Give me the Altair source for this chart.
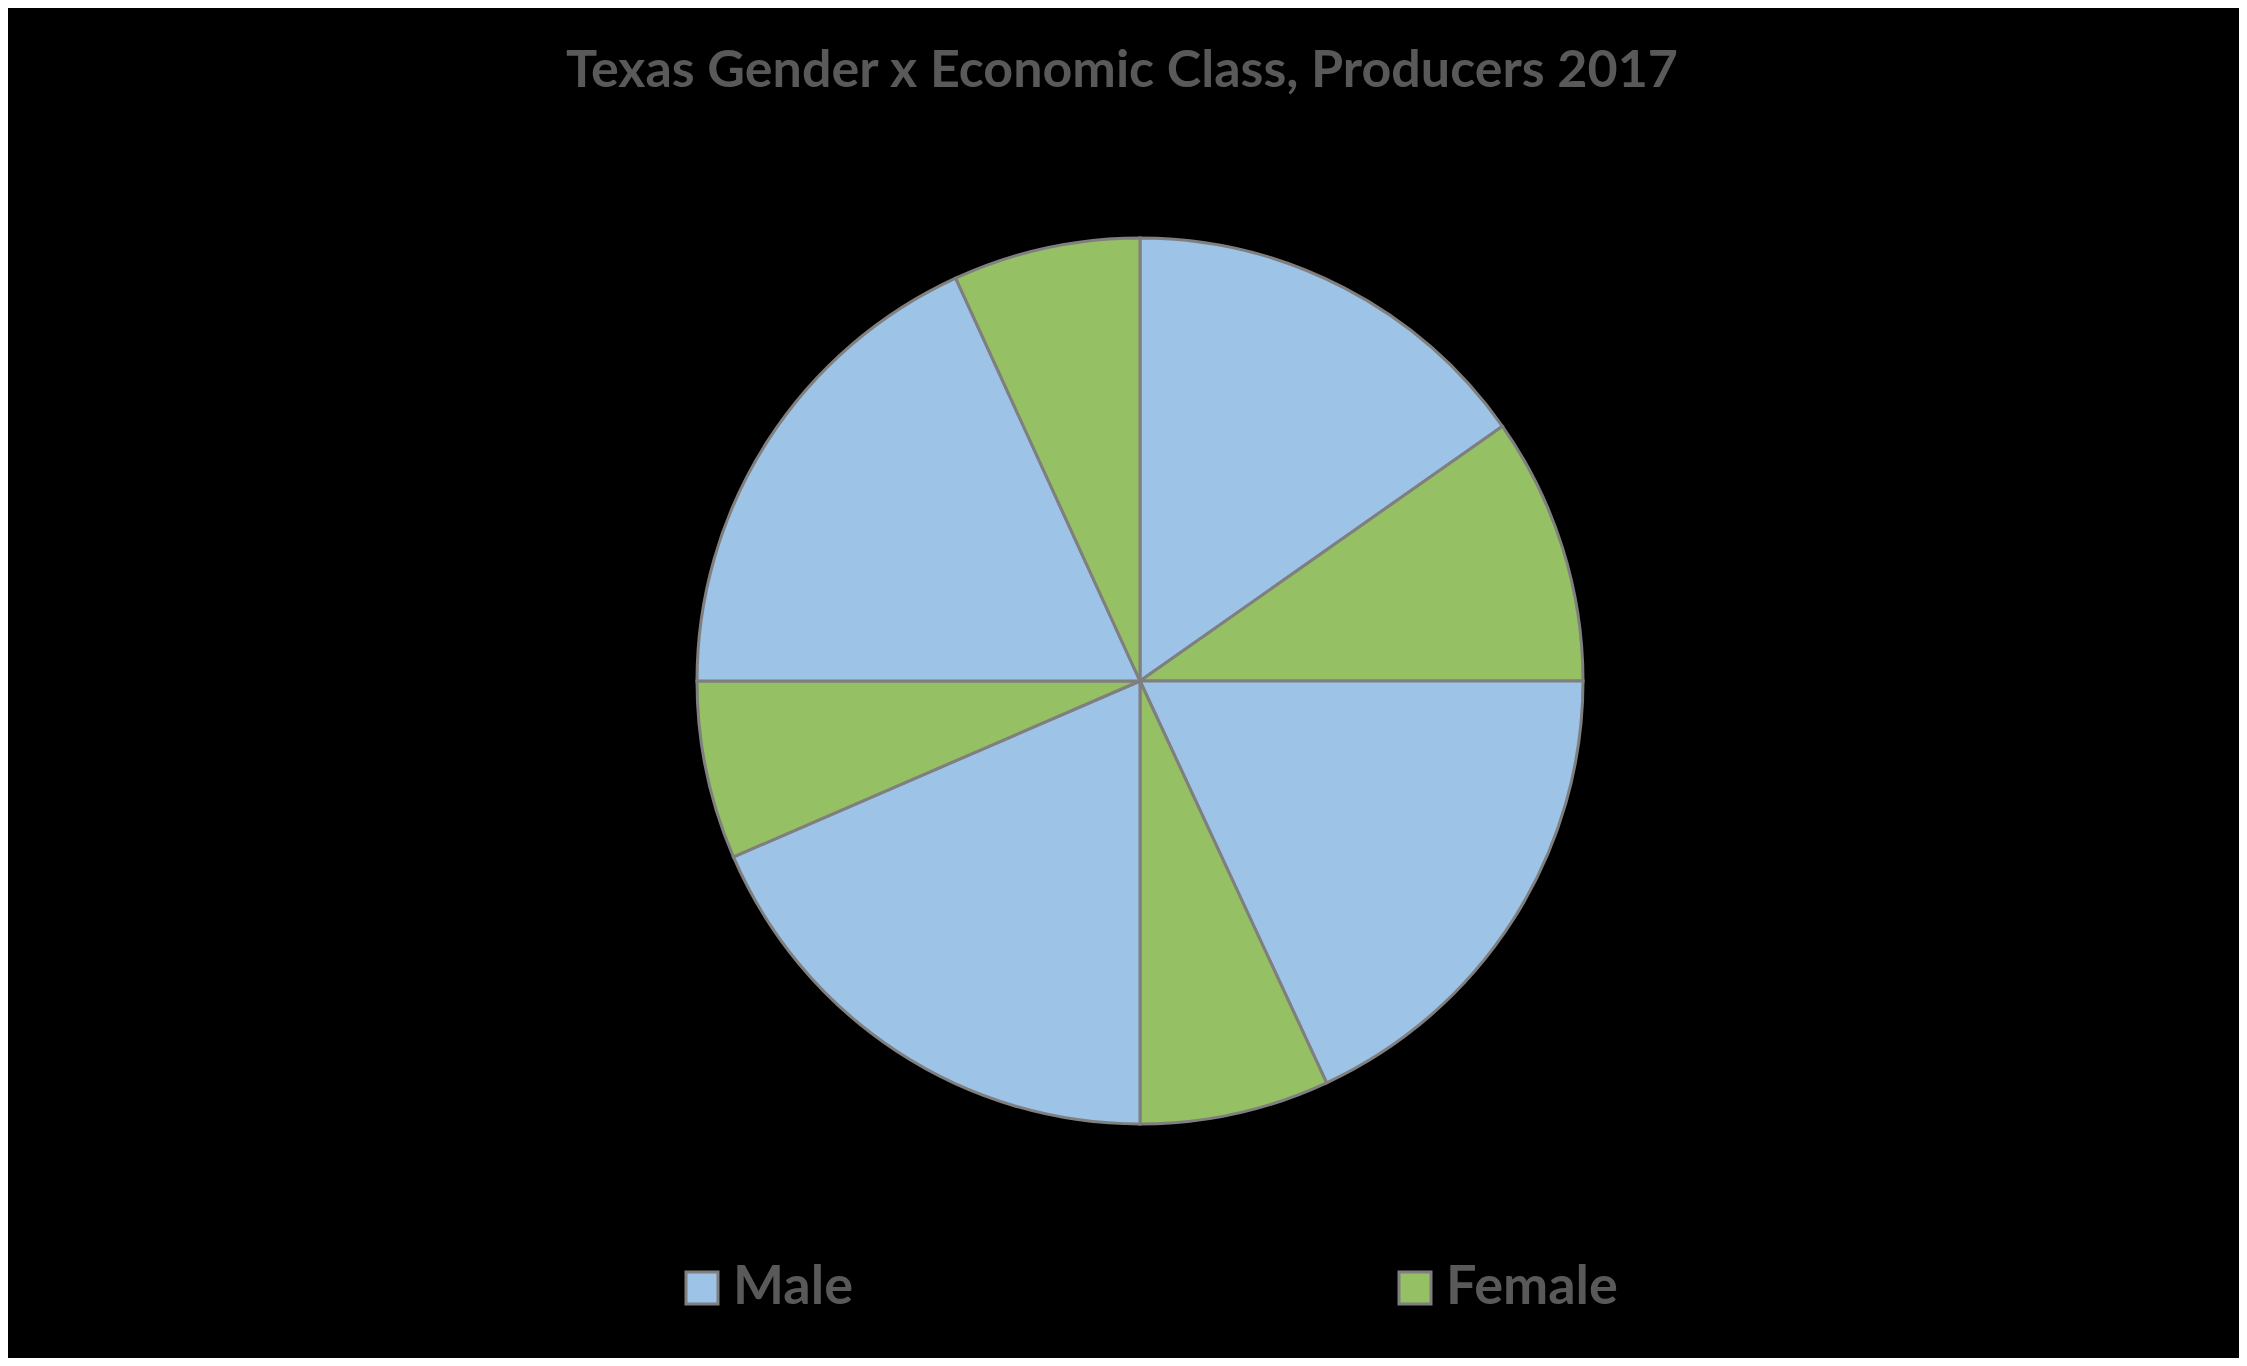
import altair as alt
import pandas as pd

# Data (percent of producers), clockwise from 12 o'clock
genders = ["Male", "Female", "Male", "Female", "Male", "Female", "Male", "Female"]
shares = [15.25, 9.75, 18.08, 6.92, 18.5, 6.5, 18.17, 6.83]
legend_order = ["Male", "Female"]
colors = ["#9DC3E6", "#95C064"]

df = pd.DataFrame({
    "Gender": genders,
    "Share": shares,
    "Order": list(range(len(shares))),
})

chart = (
    alt.Chart(df)
    .mark_arc(outerRadius=443, stroke="#7F7F7F", strokeWidth=3)
    .encode(
        theta=alt.Theta("Share:Q", stack=True),
        order=alt.Order("Order:Q"),
        color=alt.Color(
            "Gender:N",
            scale=alt.Scale(domain=legend_order, range=colors),
            sort=legend_order,
            legend=alt.Legend(
                title=None,
                orient="none",
                direction="horizontal",
                legendX=634,
                legendY=1153,
                symbolType="square",
                symbolSize=1024,
                symbolStrokeColor="#7F7F7F",
                symbolStrokeWidth=3,
                symbolOpacity=1,
                labelFont="Lato",
                labelFontSize=54,
                labelFontWeight="bold",
                labelColor="#595959",
                labelOffset=4,
                columnPadding=535,
                labelLimit=400,
            ),
        ),
    )
    .properties(
        width=2198,
        height=1146,
        padding={"left": 33, "top": 100, "right": 0, "bottom": 104},
        autosize=alt.AutoSizeParams(type="none"),
        background="#000000",
        title=alt.TitleParams(
            "Texas Gender x Economic Class, Producers 2017",
            font="Lato",
            fontSize=52,
            fontWeight="bold",
            color="#595959",
            anchor="middle",
            dx=-18,
            offset=10,
        ),
    )
    .configure_view(stroke=None)
)

chart.save("out.html", embed_options={"renderer": "svg", "actions": False})
